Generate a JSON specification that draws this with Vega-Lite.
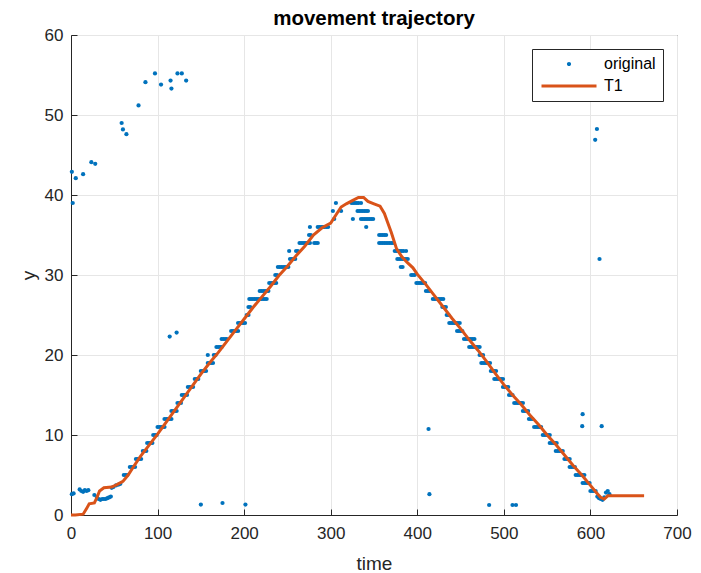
{
"$schema": "https://vega.github.io/schema/vega-lite/v6.json",
"width": 606, "height": 480,
"autosize": {"type": "none"},
"padding": {"left": 71, "top": 35, "right": 24, "bottom": 58},
"background": "white",
"title": {"text": "movement trajectory", "font": "Liberation Sans", "fontSize": 20.5, "fontWeight": "bold", "color": "#000000", "offset": -3},
"config": {
  "view": {"stroke": "#262626", "strokeWidth": 1},
  "axis": {"domainColor": "#262626", "tickColor": "#262626", "labelColor": "#262626", "titleColor": "#262626",
    "labelFont": "Liberation Sans", "titleFont": "Liberation Sans", "labelFontSize": 17, "titleFontSize": 19,
    "titleFontWeight": "normal", "gridColor": "#e6e6e6", "tickSize": -6, "labelFlush": false}
},
"datasets": {
"orig": [
{"t":1,"y":42.9},{"t":2,"y":39},{"t":5.5,"y":42.1},{"t":14,"y":42.6},{"t":23.5,"y":44.1},{"t":28,"y":43.9},{"t":58.5,"y":49},{"t":60,"y":48.2},{"t":64,"y":47.6},{"t":78,"y":51.2},{"t":86,"y":54.1},{"t":97,"y":55.2},{"t":104,"y":53.8},{"t":115,"y":54.3},{"t":116,"y":53.3},{"t":123,"y":55.2},{"t":128,"y":55.2},{"t":133,"y":54.3},{"t":114,"y":22.3},{"t":122,"y":22.8},{"t":150,"y":1.3},{"t":175,"y":1.5},{"t":201.5,"y":1.3},{"t":413,"y":10.75},{"t":414,"y":2.6},{"t":483,"y":1.25},{"t":510,"y":1.25},{"t":514,"y":1.25},{"t":591,"y":12.6},{"t":590.5,"y":11.1},{"t":613,"y":11.1},{"t":607.5,"y":48.25},{"t":605.5,"y":46.9},{"t":610.5,"y":32},
{"t":1,"y":2.6},{"t":3,"y":2.7},{"t":10,"y":3.2},{"t":12,"y":3},{"t":14,"y":2.9},{"t":16,"y":3.1},{"t":18,"y":3},{"t":20,"y":3.1},{"t":27,"y":2.5},{"t":30,"y":2.2},{"t":32,"y":2},{"t":34,"y":1.9},{"t":36,"y":2},{"t":38,"y":2},{"t":40,"y":2},{"t":42,"y":2.1},{"t":44,"y":2.2},{"t":46,"y":2.3},{"t":47,"y":3.4},{"t":49,"y":3.5},{"t":52,"y":3.7},{"t":55,"y":3.8},{"t":57,"y":3.9},
{"t":61,"y":5},{"t":63,"y":5},{"t":65,"y":5},
{"t":68,"y":6},{"t":70,"y":6},{"t":72,"y":6},{"t":74,"y":6},
{"t":75,"y":7},{"t":77,"y":7},{"t":79,"y":7},{"t":81,"y":7},
{"t":83,"y":8},{"t":85,"y":8},{"t":87,"y":8},
{"t":88,"y":9},{"t":90,"y":9},{"t":92,"y":9},{"t":94,"y":9},
{"t":95,"y":10},{"t":97,"y":10},{"t":99,"y":10},
{"t":100,"y":11},{"t":102,"y":11},{"t":104,"y":11},{"t":106,"y":11},{"t":108,"y":11},
{"t":108,"y":12},{"t":110,"y":12},{"t":112,"y":12},{"t":114,"y":12},{"t":116,"y":12},
{"t":116,"y":13},{"t":118,"y":13},{"t":120,"y":13},{"t":122,"y":13},
{"t":123,"y":14},{"t":125,"y":14},{"t":127,"y":14},
{"t":128,"y":15},{"t":130,"y":15},{"t":132,"y":15},{"t":134,"y":15},
{"t":135,"y":16},{"t":137,"y":16},{"t":139,"y":16},{"t":141,"y":16},
{"t":143,"y":17},{"t":145,"y":17},{"t":147,"y":17},
{"t":150,"y":18},{"t":152,"y":18},{"t":154,"y":18},{"t":156,"y":18},
{"t":158,"y":19},{"t":160,"y":19},{"t":162,"y":19},{"t":164,"y":19},
{"t":158,"y":20},{"t":165,"y":20},{"t":167,"y":20},
{"t":168,"y":21},{"t":170,"y":21},{"t":172,"y":21},{"t":174,"y":21},
{"t":174,"y":22},{"t":176,"y":22},{"t":178,"y":22},{"t":180,"y":22},
{"t":185,"y":23},{"t":187,"y":23},{"t":189,"y":23},{"t":191,"y":23},{"t":193,"y":23},
{"t":193,"y":24},{"t":195,"y":24},{"t":197,"y":24},{"t":199,"y":24},{"t":201,"y":24},
{"t":203,"y":25},{"t":205,"y":25},
{"t":205,"y":26},{"t":207,"y":26},
{"t":206,"y":27},{"t":208,"y":27},{"t":210,"y":27},{"t":212,"y":27},{"t":214,"y":27},{"t":216,"y":27},{"t":218,"y":27},{"t":220,"y":27},{"t":222,"y":27},{"t":224,"y":27},{"t":226,"y":27},
{"t":218,"y":28},{"t":220,"y":28},{"t":222,"y":28},{"t":224,"y":28},{"t":226,"y":28},{"t":228,"y":28},
{"t":229,"y":29},{"t":231,"y":29},{"t":233,"y":29},{"t":235,"y":29},{"t":237,"y":29},
{"t":236,"y":30},{"t":238,"y":30},
{"t":239,"y":31},{"t":241,"y":31},{"t":243,"y":31},{"t":245,"y":31},{"t":247,"y":31},{"t":249,"y":31},{"t":251,"y":31},
{"t":253,"y":32},{"t":255,"y":32},{"t":257,"y":32},{"t":259,"y":32},
{"t":252,"y":33},{"t":260,"y":33},{"t":262,"y":33},
{"t":264,"y":34},{"t":266,"y":34},{"t":268,"y":34},{"t":270,"y":34},{"t":272,"y":34},{"t":274,"y":34},{"t":276,"y":34},{"t":281,"y":34},{"t":283,"y":34},{"t":285,"y":34},
{"t":275,"y":35},{"t":277,"y":35},
{"t":276,"y":36},{"t":285,"y":36},{"t":287,"y":36},{"t":289,"y":36},{"t":291,"y":36},{"t":293,"y":36},{"t":295,"y":36},{"t":297,"y":36},
{"t":304,"y":37},{"t":325.6,"y":37},
{"t":302.5,"y":38},{"t":312,"y":38},
{"t":306,"y":39},{"t":324,"y":39},{"t":326,"y":39},{"t":328,"y":39},{"t":330,"y":39},{"t":332,"y":39},{"t":335,"y":39},
{"t":331,"y":38},{"t":333,"y":38},{"t":335,"y":38},{"t":337,"y":38},{"t":339,"y":38},{"t":341,"y":38},{"t":343,"y":38},
{"t":335,"y":37},{"t":337,"y":37},{"t":339,"y":37},{"t":341,"y":37},{"t":343,"y":37},{"t":345,"y":37},{"t":347,"y":37},{"t":349,"y":37},
{"t":341,"y":36},
{"t":356,"y":35},{"t":358,"y":35},{"t":360,"y":35},{"t":362,"y":35},{"t":364,"y":35},
{"t":356,"y":34},{"t":358,"y":34},{"t":360,"y":34},{"t":362,"y":34},{"t":364,"y":34},{"t":366,"y":34},{"t":368,"y":34},{"t":370,"y":34},{"t":372,"y":34},
{"t":374,"y":33},{"t":376,"y":33},{"t":378,"y":33},{"t":380,"y":33},{"t":382,"y":33},{"t":384,"y":33},{"t":387,"y":33},
{"t":377,"y":32},{"t":379,"y":32},{"t":381,"y":32},{"t":383,"y":32},{"t":385,"y":32},{"t":387,"y":32},{"t":389,"y":32},
{"t":381,"y":31},{"t":383,"y":31},
{"t":393,"y":30},{"t":395,"y":30},{"t":397,"y":30},
{"t":399,"y":29},{"t":401,"y":29},{"t":403,"y":29},{"t":405,"y":29},{"t":407,"y":29},{"t":409,"y":29},
{"t":410,"y":28},{"t":412,"y":28},{"t":414,"y":28},
{"t":418,"y":27},{"t":420,"y":27},{"t":422,"y":27},{"t":424,"y":27},{"t":426,"y":27},{"t":428,"y":27},{"t":430,"y":27},
{"t":429,"y":26},{"t":431,"y":26},{"t":433,"y":26},
{"t":434,"y":25},{"t":436,"y":25},
{"t":437,"y":24},{"t":439,"y":24},{"t":441,"y":24},{"t":443,"y":24},{"t":445,"y":24},{"t":447,"y":24},{"t":449,"y":24},
{"t":446,"y":23},{"t":448,"y":23},{"t":450,"y":23},{"t":452,"y":23},
{"t":454,"y":22},{"t":456,"y":22},{"t":458,"y":22},{"t":460,"y":22},{"t":462,"y":22},{"t":464,"y":22},{"t":466,"y":22},
{"t":460,"y":21},{"t":462,"y":21},{"t":464,"y":21},{"t":466,"y":21},{"t":468,"y":21},{"t":470,"y":21},{"t":472,"y":21},
{"t":472,"y":20},{"t":474,"y":20},{"t":476,"y":20},
{"t":474,"y":19},{"t":476,"y":19},{"t":478,"y":19},{"t":480,"y":19},{"t":482,"y":19},{"t":484,"y":19},
{"t":485,"y":18},{"t":487,"y":18},{"t":489,"y":18},{"t":491,"y":18},
{"t":489,"y":17},{"t":491,"y":17},{"t":493,"y":17},{"t":495,"y":17},{"t":497,"y":17},{"t":499,"y":17},
{"t":499,"y":16},{"t":501,"y":16},{"t":503,"y":16},{"t":505,"y":16},
{"t":506,"y":15},{"t":508,"y":15},{"t":510,"y":15},
{"t":512,"y":14},{"t":514,"y":14},{"t":516,"y":14},{"t":518,"y":14},{"t":520,"y":14},{"t":522,"y":14},
{"t":522,"y":13},{"t":524,"y":13},{"t":526,"y":13},{"t":528,"y":13},
{"t":529,"y":12},{"t":531,"y":12},{"t":533,"y":12},
{"t":535,"y":11},{"t":537,"y":11},{"t":539,"y":11},{"t":541,"y":11},{"t":543,"y":11},
{"t":545,"y":10},{"t":547,"y":10},{"t":549,"y":10},{"t":551,"y":10},{"t":553,"y":10},
{"t":553,"y":9},{"t":555,"y":9},{"t":557,"y":9},{"t":559,"y":9},{"t":561,"y":9},
{"t":560,"y":8},{"t":562,"y":8},{"t":564,"y":8},{"t":566,"y":8},{"t":568,"y":8},
{"t":570,"y":7},{"t":572,"y":7},{"t":574,"y":7},{"t":576,"y":7},
{"t":576,"y":6},{"t":578,"y":6},{"t":580,"y":6},{"t":582,"y":6},
{"t":583,"y":5},{"t":585,"y":5},{"t":587,"y":5},{"t":589,"y":5},{"t":591,"y":5},{"t":593,"y":5},
{"t":591,"y":4},{"t":593,"y":4},{"t":595,"y":4},{"t":597,"y":4},{"t":599,"y":4},
{"t":600,"y":3},{"t":602,"y":3},{"t":604,"y":3},{"t":606,"y":3},
{"t":608,"y":2.3},{"t":610,"y":2.1},{"t":612,"y":2},{"t":614,"y":1.9},{"t":616,"y":2.2},{"t":618,"y":2.8},{"t":620,"y":3},{"t":622,"y":2.6}
],
"t1": [
{"t":0,"y":0},{"t":5,"y":0},{"t":14,"y":0.1},{"t":18,"y":0.8},{"t":21,"y":1.4},{"t":27,"y":1.5},{"t":30,"y":2.2},{"t":33,"y":3},{"t":38,"y":3.4},{"t":47,"y":3.5},{"t":53,"y":3.8},{"t":60,"y":4.2},{"t":66,"y":5},{"t":72,"y":6},{"t":80,"y":7.3},{"t":90,"y":8.7},{"t":100,"y":10.1},{"t":110,"y":11.6},{"t":120,"y":13.1},{"t":130,"y":14.6},{"t":140,"y":16.1},{"t":150,"y":17.6},{"t":160,"y":19},{"t":170,"y":20.3},{"t":180,"y":21.7},{"t":190,"y":23.1},{"t":200,"y":24.5},{"t":210,"y":25.9},{"t":220,"y":27.2},{"t":230,"y":28.5},{"t":240,"y":29.9},{"t":250,"y":31.1},{"t":260,"y":32.4},{"t":270,"y":33.6},{"t":280,"y":35},{"t":290,"y":35.9},{"t":300,"y":36.5},{"t":306,"y":37.5},{"t":312,"y":38.5},{"t":318,"y":38.9},{"t":325,"y":39.3},{"t":332,"y":39.7},{"t":338,"y":39.7},{"t":343,"y":39.2},{"t":350,"y":38.9},{"t":357,"y":38.6},{"t":362,"y":37.7},{"t":366,"y":36.5},{"t":370,"y":35.3},{"t":376,"y":33.3},{"t":382,"y":32.3},{"t":388,"y":31.6},{"t":395,"y":30.9},{"t":400,"y":30.1},{"t":410,"y":28.8},{"t":420,"y":27.4},{"t":430,"y":26},{"t":440,"y":24.6},{"t":450,"y":23.3},{"t":460,"y":21.9},{"t":470,"y":20.6},{"t":480,"y":19.2},{"t":490,"y":17.7},{"t":500,"y":16.3},{"t":510,"y":15},{"t":520,"y":13.8},{"t":530,"y":12.5},{"t":540,"y":11.3},{"t":550,"y":10},{"t":560,"y":8.8},{"t":570,"y":7.5},{"t":580,"y":6.2},{"t":590,"y":5},{"t":600,"y":3.7},{"t":606,"y":2.9},{"t":612,"y":2.2},{"t":616,"y":2},{"t":620,"y":2.4},{"t":662,"y":2.4}
]
},
"layer": [
{
  "data": {"name": "orig"},
  "mark": {"type": "circle", "size": 18, "opacity": 1},
  "encoding": {
    "x": {"field": "t", "type": "quantitative", "scale": {"domain": [0, 700], "nice": false, "zero": false},
      "axis": {"values": [0,100,200,300,400,500,600,700], "title": "time", "grid": true, "labelPadding": 16, "titlePadding": 13}},
    "y": {"field": "y", "type": "quantitative", "scale": {"domain": [0, 60], "nice": false, "zero": false},
      "axis": {"values": [0,10,20,30,40,50,60], "title": "y", "grid": true, "labelPadding": 14, "titlePadding": 6}},
    "color": {"datum": "original", "type": "nominal",
      "scale": {"domain": ["original", "T1"], "range": ["#0072BD", "#D95319"]},
      "legend": {"title": null, "orient": "top-right", "offset": 14, "padding": 7, "rowPadding": 6,
        "strokeColor": "#262626", "fillColor": "white", "labelFont": "Liberation Sans", "labelFontSize": 16,
        "labelColor": "#000000", "symbolSize": 121, "labelOffset": 49,
        "encoding": {"symbols": {
          "shape": {"value": {"expr": "datum.value === 'T1' ? 'M-1,0H9' : 'M3.62,0A0.38,0.38 0 1,1 4.38,0A0.38,0.38 0 1,1 3.62,0Z'"}},
          "size": {"value": 121},
          "strokeWidth": {"value": {"expr": "datum.value === 'T1' ? 3 : 0"}},
          "stroke": {"value": {"expr": "datum.value === 'T1' ? '#D95319' : '#0072BD'"}},
          "fill": {"value": {"expr": "datum.value === 'T1' ? 'transparent' : '#0072BD'"}},
          "opacity": {"value": 1}, "fillOpacity": {"value": 1}, "strokeOpacity": {"value": 1}
        }}}
    }
  }
},
{
  "data": {"name": "t1"},
  "mark": {"type": "line", "strokeWidth": 3},
  "encoding": {
    "x": {"field": "t", "type": "quantitative"},
    "y": {"field": "y", "type": "quantitative"},
    "color": {"datum": "T1", "type": "nominal"}
  }
}
]
}
